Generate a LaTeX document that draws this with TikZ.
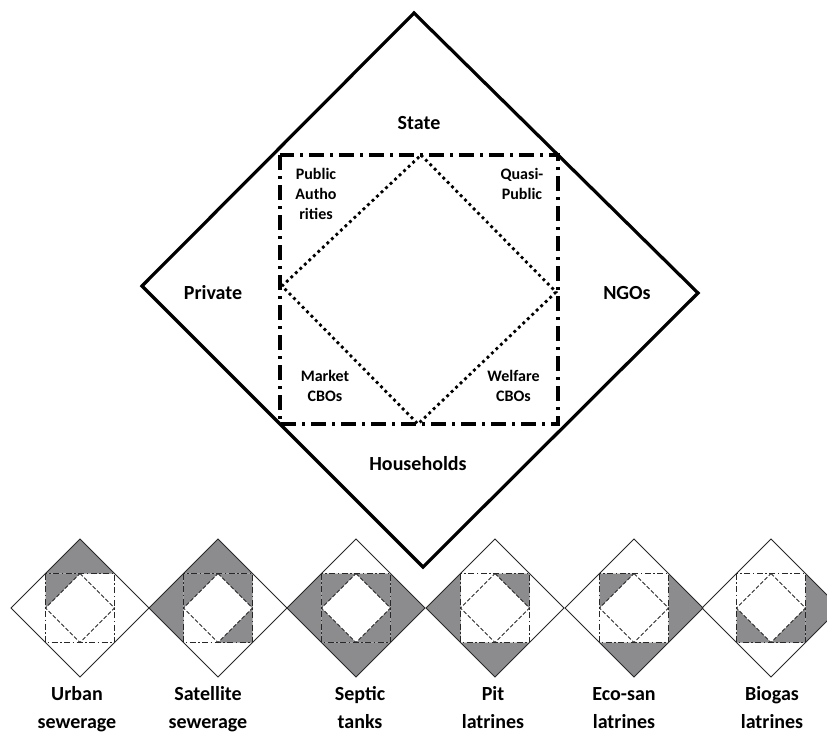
\documentclass[tikz,border=0pt]{standalone}
\usepackage{fontspec}
\setmainfont{Carlito}
\definecolor{partgray}{RGB}{140,140,143}
\definecolor{thinline}{RGB}{40,40,40}
\tikzset{
  miniframe/.pic={
    \draw[thinline,line width=0.9pt] (0,-69) -- (69,0) -- (0,69) -- (-69,0) -- cycle;
    \draw[thinline,line width=1.3pt,dash pattern=on 6pt off 2.5pt on 1.5pt off 2.5pt] (-34.5,-34.5) rectangle (34.5,34.5);
    \draw[thinline,line width=0.8pt,dash pattern=on 4pt off 2pt] (0,-34.5) -- (34.5,0) -- (0,34.5) -- (-34.5,0) -- cycle;
  },
  rgT/.pic={\fill[partgray] (0,-69) -- (34.5,-34.5) -- (-34.5,-34.5) -- cycle;},
  rgL/.pic={\fill[partgray] (-69,0) -- (-34.5,-34.5) -- (-34.5,34.5) -- cycle;},
  rgR/.pic={\fill[partgray] (69,0) -- (34.5,-34.5) -- (34.5,34.5) -- cycle;},
  rgB/.pic={\fill[partgray] (0,69) -- (-34.5,34.5) -- (34.5,34.5) -- cycle;},
  rgTL/.pic={\fill[partgray] (-34.5,-34.5) -- (0,-34.5) -- (-34.5,0) -- cycle;},
  rgTR/.pic={\fill[partgray] (34.5,-34.5) -- (0,-34.5) -- (34.5,0) -- cycle;},
  rgBL/.pic={\fill[partgray] (-34.5,34.5) -- (-34.5,0) -- (0,34.5) -- cycle;},
  rgBR/.pic={\fill[partgray] (34.5,34.5) -- (34.5,0) -- (0,34.5) -- cycle;},
}
\begin{document}
\begin{tikzpicture}[x=1pt,y=-1pt,
  mainout/.style={line width=3.2pt,line join=miter},
  mainsq/.style={line width=3.5pt,dash pattern=on 15pt off 6pt on 3pt off 6pt},
  maindot/.style={line width=2.8pt,dash pattern=on 2.8pt off 3.4pt},
  biglbl/.style={font=\bfseries\fontsize{20}{24}\selectfont,anchor=base,inner sep=0pt},
  smalllbl/.style={font=\bfseries\fontsize{16}{20}\selectfont,align=center,anchor=base,inner sep=0pt},
  caplbl/.style={font=\bfseries\fontsize{20}{28}\selectfont,align=center,anchor=base,inner sep=0pt}]
\clip (0,0) rectangle (827,732);
\fill[white] (0,0) rectangle (827,732);
% main diamond
\coordinate (T) at (414,13);
\coordinate (R) at (698,293);
\coordinate (B) at (423,567);
\coordinate (L) at (142,286);
\coordinate (sqA) at (280,155);
\coordinate (sqC) at (558,424);
\coordinate (dT) at (421,155);
\coordinate (dR) at (556,292);
\coordinate (dB) at (418,424);
\coordinate (dL) at (282,286);
\draw[mainout] (T) -- (R) -- (B) -- (L) -- cycle;
\draw[mainsq] (sqA) rectangle (sqC);
\draw[maindot] (dT) -- (dR) -- (dB) -- (dL) -- cycle;
% main labels
\node[biglbl] (state) at (419,129.5) {State};
\node[biglbl] (house) at (418,470) {Households};
\node[biglbl] (priv) at (213,299) {Private};
\node[biglbl] (ngo) at (627,299) {NGOs};
\node[smalllbl] (pubauth) at (316,219) {Public\\Autho\\rities};
\node[smalllbl] (quasi) at (522,199) {Quasi-\\Public};
\node[smalllbl] (market) at (325,401) {Market\\CBOs};
\node[smalllbl] (welfare) at (513.5,401) {Welfare\\CBOs};
% small diamonds: shaded parts
\pic at (80,608) {rgT};  \pic at (80,608) {rgTL};
\pic at (218,608) {rgT}; \pic at (218,608) {rgL}; \pic at (218,608) {rgTL}; \pic at (218,608) {rgTR}; \pic at (218,608) {rgBR};
\pic at (356,608) {rgL}; \pic at (356,608) {rgR}; \pic at (356,608) {rgB};
\pic at (356,608) {rgTL}; \pic at (356,608) {rgTR}; \pic at (356,608) {rgBL}; \pic at (356,608) {rgBR};
\pic at (495,608) {rgL}; \pic at (495,608) {rgB}; \pic at (495,608) {rgTR};
\pic at (634,608) {rgR}; \pic at (634,608) {rgB}; \pic at (634,608) {rgTL};
\pic at (771,608) {rgR}; \pic at (771,608) {rgBL}; \pic at (771,608) {rgBR};
% small diamonds: outlines
\foreach \cx in {80,218,356,495,634,771} { \pic at (\cx,608) {miniframe}; }
% captions
\node[caplbl] (c1) at (77,728.5) {Urban\\sewerage};
\node[caplbl] (c2) at (208,728.5) {Satellite\\sewerage};
\node[caplbl] (c3) at (360,728.5) {Septic\\tanks};
\node[caplbl] (c4) at (493,728.5) {Pit\\latrines};
\node[caplbl] (c5) at (624,728.5) {Eco-san\\latrines};
\node[caplbl] (c6) at (772,728.5) {Biogas\\latrines};
\end{tikzpicture}
\end{document}
